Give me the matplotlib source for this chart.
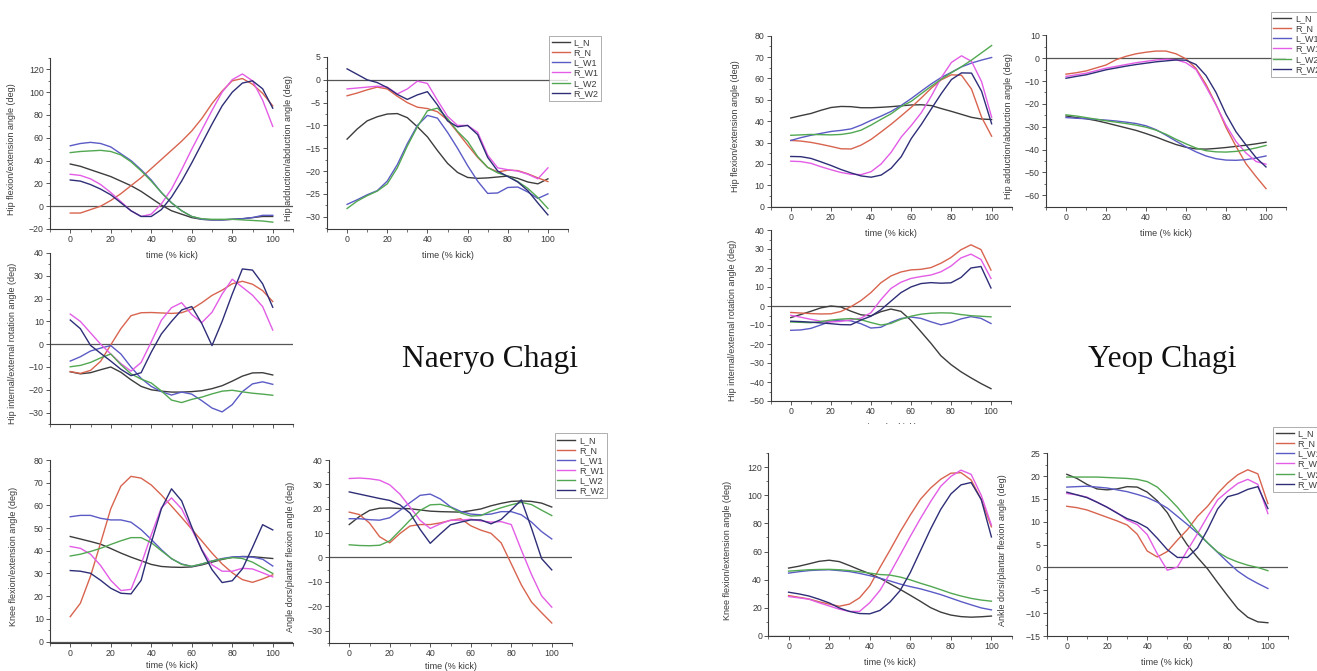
import numpy as np
import matplotlib
matplotlib.use("Agg")
import matplotlib.pyplot as plt
from matplotlib.ticker import MultipleLocator
from matplotlib.transforms import Bbox, TransformedBbox

# ---------------------------------------------------------------------------
# Data: joint angles (deg) sampled every 5 % of the kick
# ---------------------------------------------------------------------------
time_pct = list(range(0, 101, 5))
series_names = ["L_N", "R_N", "L_W1", "R_W1", "L_W2", "R_W2"]
series_colors = ["#3d3d3d", "#d8644f", "#5b5bc6", "#e35de6", "#52a852", "#2e2e78"]

# Naeryo Chagi - hip flexion/extension
nc_hipflex_LN = [37, 35, 32, 29, 26, 22, 18, 13, 7, 1, -4, -7, -10, -11.5, -12, -12, -11.5, -11, -10, -9, -9]
nc_hipflex_RN = [-6, -6, -3, 0, 5, 11, 18, 25, 33, 41, 49, 57, 66, 77, 90, 101, 110, 112, 107, 99, 88]
nc_hipflex_LW1 = [53, 55, 56, 55, 52, 46, 40, 32, 23, 12, 3, -4, -9, -11.5, -12, -12, -11.5, -11, -10, -8, -8]
nc_hipflex_RW1 = [28, 27, 24, 19, 12, 4, -4, -9, -7, 2, 15, 32, 50, 67, 84, 100, 111, 116, 110, 93, 70]
nc_hipflex_LW2 = [47, 48, 48.5, 49, 48, 45, 39, 31, 22, 12, 3, -4, -9, -11, -11.5, -11.5, -11.5, -12, -12.5, -13, -14]
nc_hipflex_RW2 = [23, 22, 19, 15, 10, 3, -4, -9, -9, -3, 8, 22, 38, 55, 72, 88, 100, 108, 110, 103, 86]

# Naeryo Chagi - hip adduction/abduction
nc_hipabd_LN = [-13, -10.8, -9, -8.1, -7.5, -7.4, -8.3, -10.3, -12.5, -15.5, -18.3, -20.3, -21.4, -21.6, -21.5, -21.3, -21.1, -21.6, -22.4, -22.8, -21.7]
nc_hipabd_RN = [-3.5, -2.9, -2.2, -1.6, -2, -3.6, -5, -6, -6.3, -7, -8.8, -11.5, -14.3, -17, -19.2, -20.2, -19.8, -19.9, -20.6, -21.5, -22.3]
nc_hipabd_LW1 = [-27.3, -26.3, -25.2, -24.3, -22.2, -18.6, -14, -10, -7.8, -8.4, -11.5, -15, -18.8, -22.2, -24.9, -24.8, -23.6, -23.5, -24.6, -26, -25]
nc_hipabd_RW1 = [-2, -1.8, -1.6, -1.4, -1.6, -3.1, -2, -0.3, -0.8, -4.5, -8, -10, -10, -11.5, -16.5, -19.3, -19.7, -20, -20.7, -21.7, -19.3]
nc_hipabd_LW2 = [-28.2, -26.6, -25.4, -24.4, -22.8, -19.3, -14.5, -10.3, -6.8, -6.2, -8.5, -11.3, -13.5, -16.8, -19.2, -20.4, -21.1, -22.3, -23.8, -25.8, -28.2]
nc_hipabd_RW2 = [2.4, 1.2, 0, -0.6, -1.7, -3.2, -4.3, -3.3, -2.6, -5.5, -9, -10.3, -10, -12, -17, -20, -21.2, -22.4, -24.3, -27, -29.6]

# Naeryo Chagi - hip internal/external rotation
nc_hiprot_LN = [-12.1, -13, -12.5, -11.2, -10, -12.3, -15.6, -18.5, -20, -20.6, -21, -21, -20.8, -20.4, -19.5, -18.2, -16.2, -14, -12.6, -12.5, -13.5]
nc_hiprot_RN = [-12, -12.8, -11.5, -7.5, -0.3, 6.8, 12.5, 13.8, 13.9, 13.7, 13.5, 13.8, 15.4, 18.2, 21.4, 23.7, 26.5, 27.6, 26.3, 23.5, 18.7]
nc_hiprot_LW1 = [-7.4, -5.5, -3, -1.7, -0.6, -4.3, -10, -15, -18.5, -20.8, -22.3, -21, -21.9, -24.8, -28, -29.7, -26.5, -20.8, -17.4, -16.5, -17.6]
nc_hiprot_RW1 = [13.2, 10, 5, 0, -4.3, -8.5, -11.8, -8, 1, 10.5, 16, 18.2, 13, 9.5, 14, 22, 28.5, 25, 21.5, 16.5, 6.2]
nc_hiprot_LW2 = [-9.9, -9.3, -8, -6, -4.3, -9, -13, -15.3, -17, -20.5, -24.5, -25.6, -24.2, -23.2, -21.8, -20.6, -20.2, -20.9, -21.5, -21.9, -22.4]
nc_hiprot_RW2 = [10.6, 6.8, -0.5, -4, -7.4, -11, -13.8, -12.5, -3.5, 4.5, 10, 15, 16.5, 9, -0.6, 10, 22, 33, 32.5, 26.5, 16.2]

# Naeryo Chagi - knee flexion/extension
nc_knee_LN = [46.3, 45.2, 44.1, 42.9, 41, 39, 37.2, 35.6, 34, 33.1, 32.8, 32.7, 32.9, 33.8, 35, 36.2, 37.1, 37.5, 37.4, 37, 36.6]
nc_knee_RN = [11, 16.9, 28.8, 43.5, 58.5, 68.5, 72.8, 72, 69, 64.6, 59.7, 54.7, 49.5, 44.3, 39, 34.2, 30.3, 27.3, 26.1, 27.6, 29.4]
nc_knee_LW1 = [55, 55.6, 55.6, 54.3, 53.6, 53.6, 52.6, 49.3, 45, 40.5, 36.5, 34.2, 33.1, 34.2, 35.5, 36.6, 37.3, 37.4, 37.2, 36.3, 33.3]
nc_knee_RW1 = [41.9, 41.1, 38.5, 33.5, 27, 22.5, 23, 34, 47, 59, 63.3, 58.5, 49.5, 40.5, 33.8, 31, 31, 32.3, 32, 30.3, 28.5]
nc_knee_LW2 = [37.7, 38.5, 39.7, 41.1, 42.8, 44.4, 45.8, 45.8, 43.6, 40, 36.6, 34, 33.2, 34.2, 35.5, 36.4, 37, 36.6, 35, 32.5, 30]
nc_knee_RW2 = [31.3, 31, 30.1, 27, 23.5, 21.3, 21, 27, 43.5, 58.5, 67.3, 62, 50.5, 40.2, 31.7, 26, 26.8, 32, 41.5, 51.5, 49.2]

# Naeryo Chagi - ankle dorsi/plantar flexion
nc_ankle_LN = [13.5, 16.8, 19.3, 20.2, 20.3, 20.1, 20, 19.5, 19, 18.8, 18.7, 18.6, 19.2, 19.9, 21.2, 22.2, 23, 23.2, 23, 22.3, 20.7]
nc_ankle_RN = [18.6, 17.6, 14.1, 8.5, 6, 9.8, 12.9, 13.5, 13.5, 14.2, 15.2, 15.9, 13, 11.2, 9.9, 6, -2.6, -11.3, -18.3, -22.7, -26.9]
nc_ankle_LW1 = [15.9, 15.9, 15.5, 15.3, 16.3, 19.3, 22.5, 25.5, 26, 24, 20.8, 18.9, 17.8, 17.5, 17.8, 18.8, 18.8, 17.5, 14.5, 10.6, 7.6]
nc_ankle_RW1 = [32.4, 32.6, 32.3, 31.7, 29.8, 26, 20.7, 15.2, 11.9, 13.8, 15.3, 15.3, 15.7, 15, 14.5, 14.7, 13.5, 3, -7, -15.8, -20.4]
nc_ankle_LW2 = [5.2, 4.9, 4.8, 5, 6.8, 11, 15.3, 19.3, 21.6, 21.8, 20.6, 18.3, 17, 17.2, 19, 20.4, 21.6, 22.6, 21.7, 19.4, 17.2]
nc_ankle_RW2 = [26.9, 26, 25.1, 24.2, 23.4, 21.6, 18.2, 11.5, 5.8, 9.7, 13.4, 14.5, 15.4, 15.4, 13.8, 15.6, 19.5, 23.6, 12, -0.5, -5.1]

# Yeop Chagi - hip flexion/extension
yc_hipflex_LN = [41.5, 42.6, 43.6, 45.1, 46.4, 46.9, 46.8, 46.3, 46.3, 46.5, 46.8, 47.2, 47.6, 47.7, 47.3, 45.9, 44.6, 43.2, 41.8, 41, 40.8]
yc_hipflex_RN = [31, 30.7, 30.1, 29.2, 28.2, 27.1, 27, 28.8, 31.5, 35, 38.6, 42.5, 46.5, 50.9, 55.5, 59.4, 61.7, 61.5, 55, 41.9, 33]
yc_hipflex_LW1 = [31, 32.3, 33.4, 34.3, 35.2, 35.7, 36.4, 38.2, 40.4, 42.4, 44.6, 47.4, 50.6, 54.1, 57.5, 60.5, 62.9, 65.4, 67.2, 68.6, 69.8]
yc_hipflex_RW1 = [21.3, 21.1, 20.3, 18.7, 17.3, 16, 15.2, 15, 16.4, 20, 25.5, 32.6, 38, 44, 51.8, 60.5, 67.5, 70.6, 68, 58.5, 41.9]
yc_hipflex_LW2 = [33.4, 33.6, 33.8, 33.7, 33.6, 33.8, 34.5, 35.8, 38.2, 40.9, 43.5, 46.9, 49.3, 52.9, 56.4, 59.7, 62.7, 65.5, 68.6, 72, 75.4]
yc_hipflex_RW2 = [23.5, 23.4, 22.6, 21, 19.3, 17.4, 15.8, 14.4, 13.8, 14.8, 18, 23.4, 31.9, 38.5, 45.8, 53, 59.5, 62.6, 62.5, 54, 38.8]

# Yeop Chagi - hip adduction/abduction
yc_hipabd_LN = [-25.3, -26, -26.5, -27.3, -28.3, -29.4, -30.5, -31.6, -33, -34.5, -36.2, -37.8, -39, -39.7, -39.8, -39.5, -39.1, -38.6, -38.1, -37.5, -36.8]
yc_hipabd_RN = [-7, -6.4, -5.6, -4.3, -3, -0.7, 0.8, 1.9, 2.6, 3.1, 3.1, 1.9, -0.3, -4.5, -11.5, -20.3, -30.3, -38.6, -46.2, -51.8, -57.1]
yc_hipabd_LW1 = [-26, -26.3, -26.5, -26.8, -27.1, -27.5, -28, -28.6, -29.6, -31.3, -33.7, -36.3, -38.8, -41, -42.8, -44, -44.6, -44.7, -44.4, -43.7, -42.8]
yc_hipabd_RW1 = [-8, -7.3, -6.6, -5.5, -4.4, -3.6, -2.8, -2, -1.4, -0.8, -0.5, -0.7, -2, -5, -12.5, -20.5, -29.3, -36.5, -41.5, -45.2, -46.4]
yc_hipabd_LW2 = [-24.8, -25.3, -26, -26.7, -27.4, -28, -28.6, -29.3, -30.2, -31.5, -33.3, -35.5, -37.5, -39.3, -40.5, -41, -41.1, -40.8, -40.2, -39.3, -38.2]
yc_hipabd_RW2 = [-8.8, -8, -7.3, -6.2, -5.1, -4.3, -3.5, -2.8, -2.2, -1.6, -1.2, -0.8, -0.9, -2.8, -7.6, -15, -24.5, -32.2, -38, -43.5, -47.6]

# Yeop Chagi - hip internal/external rotation
yc_hiprot_LN = [-6.1, -4.5, -2.8, -1, 0, -0.5, -2.7, -4.6, -5.2, -3, -1.6, -2.8, -7.5, -13.5, -19.6, -26.2, -30.8, -34.6, -37.8, -40.8, -43.5]
yc_hiprot_RN = [-3.4, -3.7, -4, -4.2, -4.1, -2.9, -0.4, 2.8, 7, 12.2, 15.8, 17.9, 19, 19.3, 20.2, 22.5, 25.5, 29.6, 32.2, 29.7, 18.9]
yc_hiprot_LW1 = [-12.8, -12.6, -11.8, -10, -8, -7.4, -7.8, -9.3, -11.6, -11.2, -8.6, -6.6, -5.8, -6.5, -8.3, -9.9, -8.7, -6.8, -5.6, -6.5, -9.2]
yc_hiprot_RW1 = [-4.9, -5.9, -7, -8, -8.4, -8.1, -7.3, -6.4, -3.6, 3.3, 9.2, 12.5, 14.5, 15.5, 16.3, 18, 21, 25.3, 27.3, 24.5, 14.5]
yc_hiprot_LW2 = [-8.4, -8.6, -8.8, -8.2, -7.4, -6.9, -6.6, -7.2, -8.7, -10, -9.2, -7, -5.4, -4.3, -3.8, -3.6, -3.7, -4.5, -5.1, -5.4, -5.7]
yc_hiprot_RW2 = [-8, -8.2, -8.5, -8.9, -9.3, -9.8, -9.9, -7.4, -5.4, -2, 2.5, 7, 10, 11.8, 12.3, 12, 12.2, 15, 20, 20.8, 9.5]

# Yeop Chagi - knee flexion/extension
yc_knee_LN = [48.2, 49.5, 51.2, 53, 53.8, 52.8, 50, 47, 44.2, 41, 37, 33, 28.8, 24.5, 20, 16.8, 14.7, 13.6, 13.2, 13.5, 14]
yc_knee_RN = [28.6, 27.4, 26.2, 24.2, 22.5, 21, 22.5, 27, 35.5, 48.5, 61, 74, 86, 97.2, 105.2, 111.5, 115.8, 116.2, 111, 97, 77.6]
yc_knee_LW1 = [44.6, 45.6, 46.4, 46.8, 47, 46.4, 45.7, 44.4, 42.8, 41, 39, 36.8, 35, 33.4, 31.4, 29.3, 26.8, 24.3, 22, 19.8, 18.4]
yc_knee_RW1 = [27.9, 27, 26, 23.5, 21.2, 18.9, 17.3, 17.3, 23.5, 32.2, 44.5, 57.5, 70.8, 83.5, 95.5, 106.5, 113.5, 118, 115, 100, 78.8]
yc_knee_LW2 = [46, 46.5, 47, 47.2, 47.3, 47, 46.4, 45.6, 44.6, 43.6, 43.2, 41.8, 39.8, 37.4, 35.2, 32.8, 30.3, 28.3, 26.6, 25.4, 24.6]
yc_knee_RW2 = [31, 29.8, 28.3, 26, 23.4, 19.8, 17.3, 15.8, 15.6, 18, 24, 32.2, 45, 60.5, 76, 90, 101, 107.5, 109.2, 97, 70.4]

# Yeop Chagi - ankle dorsi/plantar flexion
yc_ankle_LN = [20.4, 19.5, 18.2, 17.2, 17, 17.2, 17.7, 17.6, 16.5, 14.6, 12, 8.2, 4.9, 2.2, -0.3, -3.3, -6.2, -9, -10.9, -11.9, -12.1]
yc_ankle_RN = [13.4, 13.1, 12.6, 11.8, 11, 10.2, 9.3, 7.3, 3.6, 2.3, 3.5, 6, 8.3, 11.2, 13.4, 16.2, 18.5, 20.3, 21.4, 20.5, 14]
yc_ankle_LW1 = [17.6, 17.7, 17.8, 17.6, 17.4, 17, 16.6, 16, 15.3, 14.3, 13, 11.2, 9.4, 7.5, 5.4, 3.3, 1.2, -0.8, -2.3, -3.5, -4.6]
yc_ankle_RW1 = [16.2, 15.9, 15.4, 14.3, 13.2, 12, 10.4, 9.4, 7.2, 3, -0.6, 0.1, 3.8, 7.4, 11.2, 14.8, 16.7, 18.4, 19.3, 18.2, 11.8]
yc_ankle_LW2 = [19.8, 19.8, 19.8, 19.8, 19.7, 19.6, 19.5, 19.3, 18.8, 17.6, 15.5, 13.2, 10.5, 7.8, 5.4, 3.4, 2.1, 1.2, 0.5, 0, -0.7]
yc_ankle_RW2 = [16.5, 15.9, 15.3, 14.3, 13.2, 11.9, 10.7, 9.9, 8.7, 6.4, 3.9, 2.2, 2.2, 4.3, 8.3, 12.8, 15.5, 16.1, 17.1, 17.7, 12.9]

# ---------------------------------------------------------------------------
# Figure
# ---------------------------------------------------------------------------
W, H = 1317, 671
plt.rcParams["font.family"] = ["Liberation Sans", "DejaVu Sans"]
fig = plt.figure(figsize=(W / 100, H / 100), dpi=100)
fig.patch.set_facecolor("white")

AXIS_COLOR = "#3a3a3a"
LABEL_SIZE = 6.5
TICK_SIZE = 6.3


def add_panel(box, curves, ylim, ymajor, ylabel, ylabel_x,
              xticklabels=True, xlabel=True, xlabel_gap=22.0, xlabel_clip_y=None):
    left, top, right, bottom = box
    ax = fig.add_axes([left / W, 1 - bottom / H, (right - left) / W, (bottom - top) / H])
    ax.set_facecolor("none")
    ax.axhline(0, color="#555555", lw=0.9, zorder=1)
    for name, vals, col in zip(series_names, curves, series_colors):
        ax.plot(time_pct, vals, color=col, lw=1.0, label=name, zorder=2)
    ax.set_xlim(-10, 110)
    ax.set_ylim(*ylim)
    ax.xaxis.set_major_locator(MultipleLocator(20))
    ax.xaxis.set_minor_locator(MultipleLocator(10))
    ax.yaxis.set_major_locator(MultipleLocator(ymajor))
    ax.yaxis.set_minor_locator(MultipleLocator(ymajor / 2))
    for side in ("top", "right"):
        ax.spines[side].set_visible(False)
    for side in ("left", "bottom"):
        ax.spines[side].set_color(AXIS_COLOR)
        ax.spines[side].set_linewidth(0.8)
    ax.tick_params(which="major", direction="out", length=3.0, width=0.6,
                   colors=AXIS_COLOR, labelsize=TICK_SIZE, pad=1.5)
    ax.tick_params(which="minor", direction="out", length=1.8, width=0.5,
                   colors=AXIS_COLOR)
    ax.tick_params(axis="x", labelbottom=xticklabels)
    height = bottom - top
    width = right - left
    ax.set_ylabel(ylabel, fontsize=LABEL_SIZE, color=AXIS_COLOR)
    ax.yaxis.set_label_coords((ylabel_x - left) / width, 0.47)
    if xlabel:
        ax.set_xlabel("time (% kick)", fontsize=LABEL_SIZE, color=AXIS_COLOR)
        ax.xaxis.set_label_coords(0.5, -xlabel_gap / height)
        if xlabel_clip_y is not None:
            keep = Bbox([[0, 1 - xlabel_clip_y / H], [1, 1]])
            ax.xaxis.label.set_clip_box(TransformedBbox(keep, fig.transFigure))
            ax.xaxis.label.set_clip_on(True)
    return ax


def add_legend(ax, x_px, y_px):
    handles, labels = ax.get_legend_handles_labels()
    leg = fig.legend(handles, labels, loc="upper left",
                     bbox_to_anchor=(x_px / W, 1 - y_px / H),
                     bbox_transform=fig.transFigure, frameon=True, fancybox=False,
                     fontsize=6.5, handlelength=2.0, handletextpad=0.4,
                     labelspacing=0.12, borderpad=0.3, borderaxespad=0.0)
    leg.get_frame().set_edgecolor("#8a8a8a")
    leg.get_frame().set_linewidth(0.6)
    for txt in leg.get_texts():
        txt.set_color(AXIS_COLOR)
    return leg


HIPFLEX = "Hip flexion/extension angle (deg)"
HIPABD = "Hip adduction/abduction angle (deg)"
HIPROT = "Hip internal/external rotation angle (deg)"
KNEE = "Knee flexion/extension angle (deg)"

# Naeryo Chagi block
add_panel((50, 58, 293, 229),
          [nc_hipflex_LN, nc_hipflex_RN, nc_hipflex_LW1, nc_hipflex_RW1, nc_hipflex_LW2, nc_hipflex_RW2],
          (-20, 130), 20, HIPFLEX, 16)
ax_b = add_panel((327, 57, 568, 229),
                 [nc_hipabd_LN, nc_hipabd_RN, nc_hipabd_LW1, nc_hipabd_RW1, nc_hipabd_LW2, nc_hipabd_RW2],
                 (-32.7, 5), 5, HIPABD, 293)
add_legend(ax_b, 549, 35.7)
add_panel((50, 253, 293, 424),
          [nc_hiprot_LN, nc_hiprot_RN, nc_hiprot_LW1, nc_hiprot_RW1, nc_hiprot_LW2, nc_hiprot_RW2],
          (-35, 40), 10, HIPROT, 17, xticklabels=False, xlabel=False)
add_panel((50, 460, 293, 642.5),
          [nc_knee_LN, nc_knee_RN, nc_knee_LW1, nc_knee_RW1, nc_knee_LW2, nc_knee_RW2],
          (-0.4, 80), 10, KNEE, 18, xlabel_gap=19.0)
ax_e = add_panel((329, 460, 572, 642.7),
                 [nc_ankle_LN, nc_ankle_RN, nc_ankle_LW1, nc_ankle_RW1, nc_ankle_LW2, nc_ankle_RW2],
                 (-35, 40), 10, "Angle dors/plantar flexion angle (deg)", 295, xlabel_gap=19.0)
add_legend(ax_e, 554.7, 433)

# Yeop Chagi block
add_panel((770.7, 35.7, 1011.7, 206.7),
          [yc_hipflex_LN, yc_hipflex_RN, yc_hipflex_LW1, yc_hipflex_RW1, yc_hipflex_LW2, yc_hipflex_RW2],
          (0, 80), 10, HIPFLEX, 740)
ax_g = add_panel((1046, 35.3, 1286, 206.7),
                 [yc_hipabd_LN, yc_hipabd_RN, yc_hipabd_LW1, yc_hipabd_RW1, yc_hipabd_LW2, yc_hipabd_RW2],
                 (-65, 10), 10, HIPABD, 1013)
add_legend(ax_g, 1270.7, 11.7)
add_panel((770.7, 230, 1011, 401),
          [yc_hiprot_LN, yc_hiprot_RN, yc_hiprot_LW1, yc_hiprot_RW1, yc_hiprot_LW2, yc_hiprot_RW2],
          (-50, 40), 10, HIPROT, 737, xlabel_clip_y=424)
add_panel((768.3, 453.3, 1011.7, 635.7),
          [yc_knee_LN, yc_knee_RN, yc_knee_LW1, yc_knee_RW1, yc_knee_LW2, yc_knee_RW2],
          (0, 130), 20, KNEE, 732)
ax_j = add_panel((1046.7, 453.3, 1288, 636),
                 [yc_ankle_LN, yc_ankle_RN, yc_ankle_LW1, yc_ankle_RW1, yc_ankle_LW2, yc_ankle_RW2],
                 (-15, 25), 5, "Ankle dorsi/plantar flexion angle (deg)", 1007)
add_legend(ax_j, 1273.3, 426.7)

# Kick names
fig.text(490 / W, 1 - 366.7 / H, "Naeryo Chagi", ha="center", va="baseline",
         family="Liberation Serif", fontsize=22.7, color="#111111")
fig.text(1162.5 / W, 1 - 366.7 / H, "Yeop Chagi", ha="center", va="baseline",
         family="Liberation Serif", fontsize=22.7, color="#111111")

fig.savefig("out.png", dpi=100, facecolor="white")
